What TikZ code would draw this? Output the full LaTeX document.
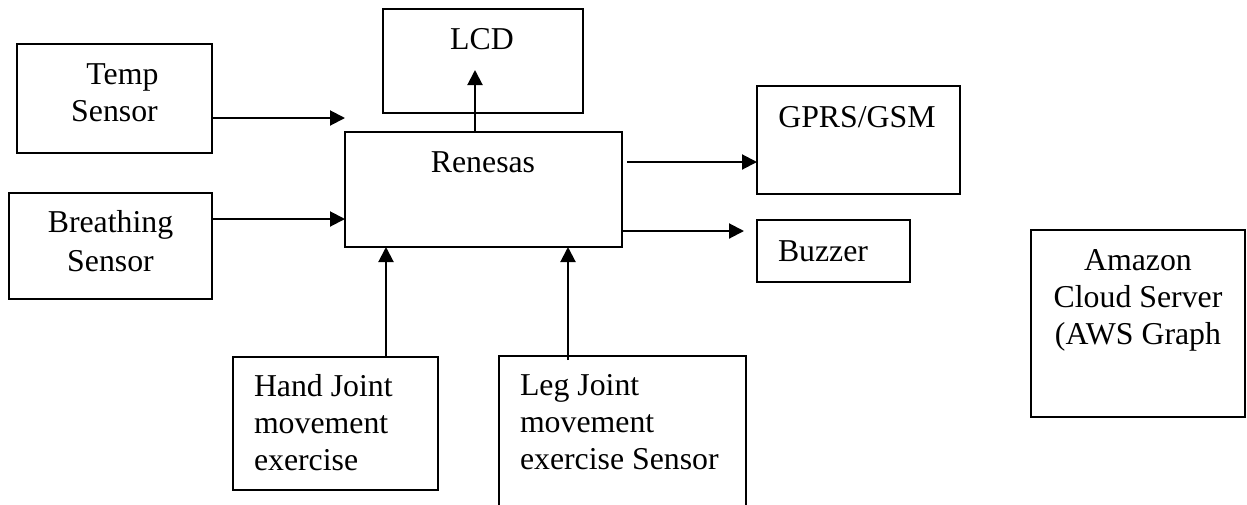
\documentclass[tikz,border=0pt]{standalone}
\usepackage{fontspec}
\setmainfont{Liberation Serif}
\usetikzlibrary{arrows.meta}
\begin{document}
\begin{tikzpicture}[x=0.5pt,y=-0.5pt,
  box/.style 2 args={draw, line width=0.9pt, inner sep=0pt, outer sep=0pt, minimum width=#1*0.5pt, minimum height=#2*0.5pt},
  arr/.style={line width=1pt, -{Triangle[length=7.5pt,width=7.5pt]}},
  txt/.style={inner sep=0pt, outer sep=0pt, font=\fontsize{15.9}{18.5}\selectfont}]
\useasboundingbox (0,0) rectangle (1247,504);
% boxes
\node[box={195}{109}] (temp) at (114.5,98.5) {};
\node[box={203}{106}] (breath) at (110.5,246) {};
\node[box={200}{104}] (lcd) at (483,61) {};
\node[box={277}{115}] (ren) at (483.5,189.5) {};
\node[box={203}{108}] (gprs) at (858.5,140) {};
\node[box={153}{62}] (buzz) at (833.5,251) {};
\node[box={214}{187}] (amz) at (1138,323.5) {};
\node[box={205}{133}] (hand) at (335.5,423.5) {};
\node[box={247}{170}] (leg) at (622.5,441) {};
% texts
\node[txt,anchor=base] (ttemp) at (114.5,84) {\begin{tabular}[t]{@{}c@{}}\hspace*{0.5em}Temp\\Sensor\end{tabular}};
\node[txt,anchor=base] (tbreath) at (110.5,232) {\begin{tabular}[t]{@{}c@{}}Breathing\\[1pt]Sensor\end{tabular}};
\node[txt,anchor=base] (tlcd) at (482,49) {LCD};
\node[txt,anchor=base] (tren) at (483,172) {Renesas};
\node[txt,anchor=base] (tgprs) at (857,127) {GPRS/GSM};
\node[txt,anchor=base west] (tbuzz) at (778,261) {Buzzer};
\node[txt,anchor=base] (tamz) at (1138,270) {\begin{tabular}[t]{@{}c@{}}Amazon\\Cloud Server\\(AWS Graph\end{tabular}};
\node[txt,anchor=base west] (thand) at (254,396) {\begin{tabular}[t]{@{}l@{}}Hand Joint\\movement\\exercise\end{tabular}};
\node[txt,anchor=base west] (tleg) at (520,395) {\begin{tabular}[t]{@{}l@{}}Leg Joint\\movement\\exercise Sensor\end{tabular}};
% connectors
\coordinate (tin) at (345,118);
\draw[arr] (temp.east |- tin) -- (tin);
\coordinate (bin) at (345,219);
\draw[arr] (breath.east |- bin) -- (ren.west |- bin);
\coordinate (lcdtip) at (475,70);
\draw[arr] (ren.north -| lcdtip) -- (lcdtip);
\coordinate (gin) at (757,162);
\draw[arr] ([xshift=2.5pt]ren.east |- gin) -- (gprs.west |- gin);
\coordinate (zin) at (744,231);
\draw[arr] (ren.east |- zin) -- (zin);
\coordinate (hx) at (386,0);
\draw[arr] (hand.north -| hx) -- (ren.south -| hx);
\coordinate (lx) at (568,0);
\draw[arr] ([yshift=-2pt]leg.north -| lx) -- (ren.south -| lx);
\end{tikzpicture}
\end{document}
